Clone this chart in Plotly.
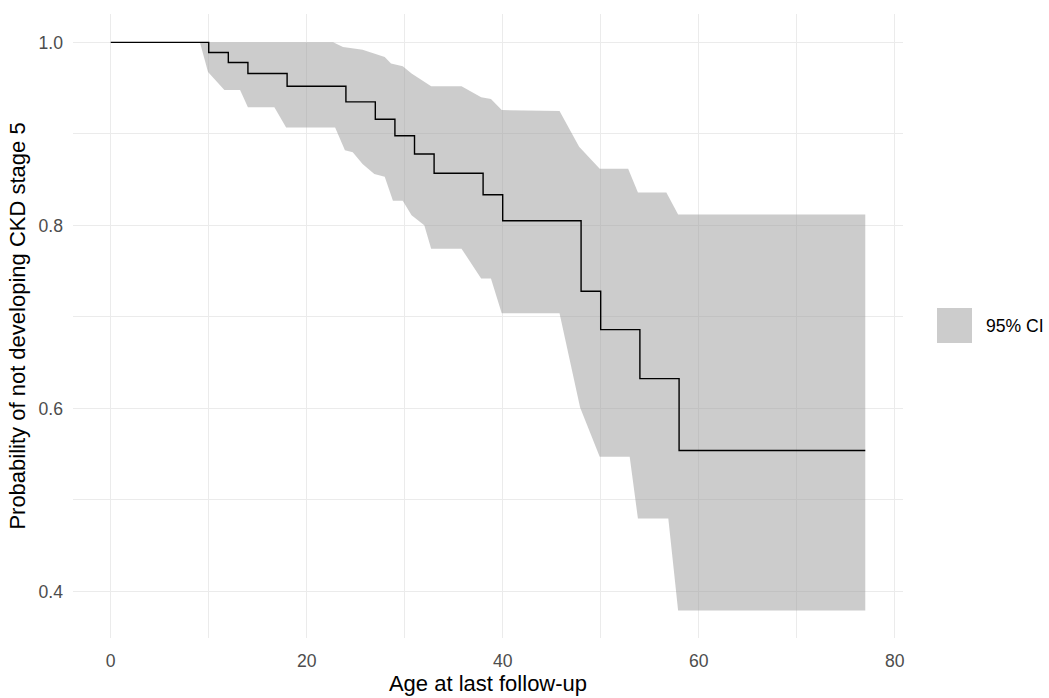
import plotly.graph_objects as go

# Kaplan-Meier estimate (step function)
km_time = [0, 10, 12, 14, 18, 24, 27, 29, 31, 33, 38, 40, 48, 50, 54, 58, 77]
km_surv = [1.0, 0.989, 0.978, 0.966, 0.952, 0.935, 0.916, 0.898, 0.878, 0.857,
           0.8335, 0.805, 0.728, 0.686, 0.6325, 0.554, 0.554]

# 95% CI band - lower edge
ci_lower_time = [0, 9.1, 9.93, 11.6, 13.2, 14.0, 16.7, 17.9, 22.9, 23.9, 24.7, 25.7,
                 26.9, 27.96, 28.8, 29.8, 30.7, 32.0, 32.7, 35.8, 37.8, 38.8, 39.9,
                 45.8, 47.9, 49.9, 52.96, 53.8, 56.9, 57.9, 77.0]
ci_lower = [1.0, 1.0, 0.9675, 0.948, 0.948, 0.929, 0.929, 0.907, 0.907, 0.882, 0.880,
            0.867, 0.856, 0.853, 0.827, 0.827, 0.811, 0.800, 0.7745, 0.7745, 0.742,
            0.742, 0.704, 0.704, 0.601, 0.547, 0.547, 0.4795, 0.4795, 0.379, 0.379]

# 95% CI band - upper edge
ci_upper_time = [0, 22.7, 23.7, 25.7, 26.8, 27.96, 28.6, 29.8, 30.7, 31.9, 32.7, 35.8,
                 36.8, 37.8, 38.8, 39.9, 45.8, 47.8, 49.9, 52.8, 53.8, 56.7, 57.9, 77.0]
ci_upper = [1.0, 1.0, 0.995, 0.992, 0.988, 0.984, 0.977, 0.974, 0.966, 0.958, 0.952,
            0.952, 0.946, 0.940, 0.938, 0.926, 0.925, 0.886, 0.862, 0.862, 0.836, 0.836,
            0.812, 0.812]

x_ticks = [0, 20, 40, 60, 80]
y_ticks = [0.4, 0.6, 0.8, 1.0]
legend_label = "95% CI"

FONT = "Liberation Sans, Arial, sans-serif"
RIBBON = "rgba(153,153,153,0.5)"

fig = go.Figure()

band_x = ci_lower_time + ci_upper_time[::-1]
band_y = ci_lower + ci_upper[::-1]
fig.add_trace(go.Scatter(
    x=band_x, y=band_y, mode="lines", fill="toself",
    fillcolor=RIBBON, line=dict(width=0), hoverinfo="skip",
    name=legend_label, showlegend=False,
))

fig.add_trace(go.Scatter(
    x=km_time, y=km_surv, mode="lines", line_shape="hv",
    line=dict(color="black", width=1.4), showlegend=False, name="KM",
))

# legend (ggplot-style key)
L, R, T, B = 73, 146, 14, 60
W, H = 1049 - L - R, 698 - T - B
def px_x(p):
    return (p - L) / W
def px_y(p):
    return (698 - B - p) / H

fig.add_shape(type="rect", xref="paper", yref="paper",
              x0=px_x(937), x1=px_x(972), y0=px_y(343), y1=px_y(308),
              fillcolor=RIBBON, line=dict(width=0), layer="above")
fig.add_annotation(xref="paper", yref="paper", x=px_x(984), y=px_y(326),
                   text=legend_label, showarrow=False, xanchor="left", yanchor="middle",
                   font=dict(family=FONT, size=17.6, color="black"))

grid = "#ebebeb"
fig.update_layout(
    width=1049, height=698,
    margin=dict(l=L, r=R, t=T, b=B),
    paper_bgcolor="white", plot_bgcolor="white",
    font=dict(family=FONT),
    xaxis=dict(
        range=[-3.85, 80.85], tickvals=x_ticks, ticktext=[str(v) for v in x_ticks],
        showgrid=True, gridcolor=grid, gridwidth=1.1, zeroline=False, showline=False,
        ticks="", ticklabelstandoff=10,
        tickfont=dict(family=FONT, size=17.6, color="#4d4d4d"),
        minor=dict(dtick=10, tick0=10, showgrid=True, gridcolor=grid, gridwidth=1.0),
        title=dict(text="Age at last follow-up", standoff=6,
                   font=dict(family=FONT, size=22, color="black")),
        automargin=False,
    ),
    yaxis=dict(
        range=[0.349, 1.031], tickvals=y_ticks, ticktext=[f"{v:.1f}" for v in y_ticks],
        showgrid=True, gridcolor=grid, gridwidth=1.1, zeroline=False, showline=False,
        ticks="", ticklabelstandoff=9,
        tickfont=dict(family=FONT, size=17.6, color="#4d4d4d"),
        minor=dict(dtick=0.1, tick0=0.3, showgrid=True, gridcolor=grid, gridwidth=1.0),
        title=dict(text="Probability of not developing CKD stage 5", standoff=6,
                   font=dict(family=FONT, size=22, color="black")),
        automargin=False,
    ),
)

fig.write_html("out.html")
